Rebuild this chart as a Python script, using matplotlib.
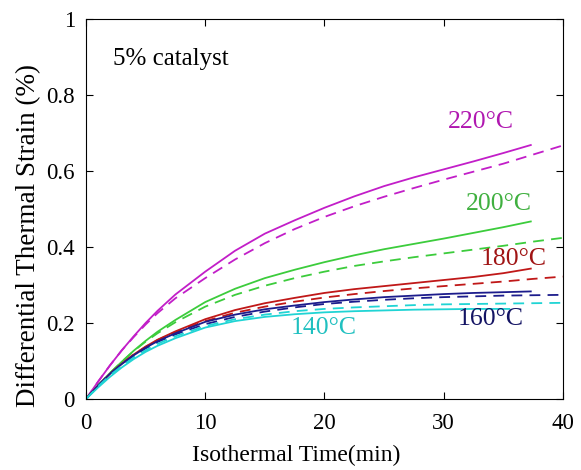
import matplotlib
matplotlib.use("Agg")
import matplotlib.pyplot as plt

plt.rcParams["font.family"] = ["Liberation Serif", "DejaVu Serif"]

# isothermal time (min) for measured (solid) and model (dashed) curves
t_meas = [0, 1, 2, 3, 4, 5, 6, 7.5, 10, 12.5, 15, 17.5, 20, 22.5, 25, 27.5, 30, 32.5, 35, 37.3]
t_meas_140 = [0, 1, 2, 3, 4, 5, 6, 7.5, 10, 12.5, 15, 17.5, 20, 22.5, 25, 27.5, 30, 32.5, 35.5]
t_model = [0, 1, 2, 3, 4, 5, 6, 7.5, 10, 12.5, 15, 17.5, 20, 22.5, 25, 27.5, 30, 32.5, 35, 37.5, 40]

# differential thermal strain (%)
meas_220 = [0, 0.045, 0.088, 0.128, 0.165, 0.200, 0.232, 0.275, 0.335, 0.390, 0.435, 0.470,
            0.503, 0.533, 0.560, 0.583, 0.604, 0.625, 0.647, 0.668]
model_220 = [0, 0.045, 0.088, 0.128, 0.163, 0.196, 0.226, 0.265, 0.318, 0.367, 0.410, 0.447,
             0.479, 0.507, 0.532, 0.555, 0.577, 0.598, 0.619, 0.643, 0.667]

meas_200 = [0, 0.035, 0.068, 0.098, 0.127, 0.153, 0.177, 0.208, 0.255, 0.290, 0.318, 0.340,
            0.360, 0.378, 0.394, 0.408, 0.422, 0.437, 0.452, 0.467]
model_200 = [0, 0.035, 0.068, 0.098, 0.126, 0.151, 0.173, 0.202, 0.243, 0.274, 0.298, 0.318,
             0.335, 0.350, 0.362, 0.373, 0.383, 0.393, 0.403, 0.414, 0.424]

meas_180 = [0, 0.035, 0.066, 0.093, 0.117, 0.138, 0.156, 0.178, 0.210, 0.234, 0.252, 0.266,
            0.279, 0.289, 0.297, 0.305, 0.313, 0.321, 0.331, 0.343]
model_180 = [0, 0.035, 0.066, 0.093, 0.117, 0.137, 0.155, 0.176, 0.205, 0.227, 0.243, 0.256,
             0.267, 0.276, 0.284, 0.291, 0.297, 0.303, 0.309, 0.316, 0.322]

meas_160 = [0, 0.035, 0.066, 0.092, 0.115, 0.135, 0.152, 0.173, 0.203, 0.222, 0.236, 0.246,
            0.255, 0.262, 0.268, 0.272, 0.276, 0.279, 0.281, 0.283]
model_160 = [0, 0.035, 0.065, 0.091, 0.114, 0.133, 0.150, 0.170, 0.197, 0.216, 0.230, 0.241,
             0.250, 0.256, 0.261, 0.265, 0.268, 0.270, 0.272, 0.273, 0.274]

meas_140 = [0, 0.030, 0.058, 0.083, 0.105, 0.124, 0.140, 0.160, 0.188, 0.205, 0.216, 0.223,
            0.228, 0.231, 0.233, 0.235, 0.236, 0.237, 0.237]
model_140 = [0, 0.033, 0.062, 0.087, 0.109, 0.128, 0.145, 0.165, 0.192, 0.210, 0.222, 0.231,
             0.237, 0.241, 0.244, 0.247, 0.249, 0.250, 0.251, 0.252, 0.253]

labels = ["220°C", "200°C", "180°C", "160°C", "140°C"]
line_colors = ["#c21ec8", "#3ccc3c", "#c01818", "#1c1c8c", "#20d4d4"]
text_colors = ["#b018b0", "#40b040", "#a01414", "#141464", "#20c0c0"]
label_pos = [(33.1, 0.729), (34.6, 0.513), (35.9, 0.368), (33.9, 0.210), (19.9, 0.187)]

fig = plt.figure(figsize=(5.81, 4.70), dpi=100)
ax = fig.add_axes([0.148, 0.151, 0.821, 0.809])

curves = [
    (t_meas, meas_220, model_220),
    (t_meas, meas_200, model_200),
    (t_meas, meas_180, model_180),
    (t_meas, meas_160, model_160),
    (t_meas_140, meas_140, model_140),
]

for (tm, meas, model), color in zip(curves, line_colors):
    ax.plot(tm, meas, color=color, lw=1.3)
    ax.plot(t_model, model, color=color, lw=1.3, dashes=(6, 4))

for text, color, (x, y) in zip(labels, text_colors, label_pos):
    ax.text(x, y, text, color=color, fontsize=18.5, ha="center", va="center")

ax.text(2.3, 0.895, "5% catalyst", fontsize=18, ha="left", va="center")

ax.set_xlim(0, 40)
ax.set_ylim(0, 1)
ax.set_xticks([0, 10, 20, 30, 40])
ax.set_yticks([0, 0.2, 0.4, 0.6, 0.8, 1])
ax.set_yticklabels(["0", "0.2", "0.4", "0.6", "0.8", "1"])
ax.tick_params(direction="in", top=True, right=True, length=5, labelsize=16.5)
ax.tick_params(axis="x", pad=10)
ax.tick_params(axis="y", pad=8)
ax.set_xlabel("Isothermal Time(min)", fontsize=17)
ax.set_ylabel("Differential Thermal Strain (%)", fontsize=19.5)
ax.xaxis.set_label_coords(0.441, -0.12)
ax.yaxis.set_label_coords(-0.095, 0.43)

fig.savefig("out.png", dpi=100)
